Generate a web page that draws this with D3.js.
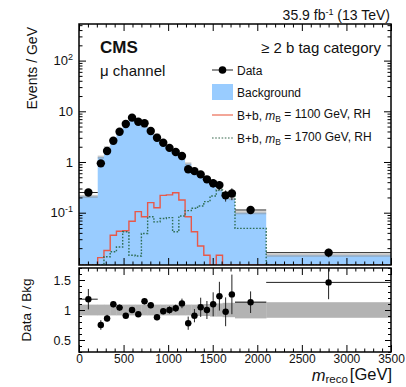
<!DOCTYPE html>
<html><head><meta charset="utf-8">
<script src="https://cdn.jsdelivr.net/npm/d3@7"></script>
<style>body{margin:0;background:#fff} text{font-family:"Liberation Sans",Arial,sans-serif;fill:#111}</style>
</head><body><svg id="c" width="406" height="387"></svg>
<script>
// ---- data ----
const binEdges = [0,210,280,350,420,490,560,630,700,770,840,910,980,1050,1120,1190,1260,1330,1400,1470,1540,1610,1680,1750,2100,3500];
const dataValues = [0.25,0.94,1.65,2.63,3.96,5.6,7.5,6.2,5.8,4.1,3.0,2.4,1.9,1.58,1.31,0.72,0.66,0.57,0.455,0.38,0.35,0.22,0.24,0.113,0.0163];
const bkgValues  = [0.21,1.25,1.92,2.4,3.8,6.2,7.5,6.7,5.07,3.8,3.4,2.45,1.9,1.53,1.18,0.92,0.73,0.545,0.455,0.35,0.285,0.227,0.19,0.10,0.0145];
const sig1100 = [0,0.013,0.018,0.036,0.043,0.044,0.068,0.105,0.083,0.158,0.125,0.22,0.225,0.248,0.178,0.083,0.042,0.022,0.0145,0,0.0145,0,0,0,0];
const sig1700 = [0,0,0.0135,0.017,0.021,0.042,0.0145,0.014,0.039,0.083,0.066,0.077,0.08,0.042,0.086,0.11,0.122,0.136,0.165,0.213,0.28,0.213,0.248,0.049,0];
const ratioValues = [1.18,0.75,0.86,1.095,1.04,0.905,1.0,0.93,1.145,1.08,0.88,0.98,1.0,1.03,1.11,0.78,0.905,1.045,1.0,1.095,1.23,0.97,1.26,1.13,1.46];
const ratioErrors = [0.17,0.08,0.06,0.05,0.05,0.04,0.04,0.04,0.05,0.05,0.05,0.05,0.06,0.06,0.08,0.11,0.11,0.16,0.15,0.2,0.24,0.24,0.33,0.18,0.28];
const bandHalfWidth = [0.09,0.09,0.09,0.09,0.09,0.09,0.09,0.09,0.09,0.09,0.09,0.09,0.09,0.09,0.09,0.09,0.09,0.1,0.1,0.11,0.11,0.12,0.12,0.14,0.13];
const xTicks = [0,500,1000,1500,2000,2500,3000,3500];
const yTopTicks = [0.1,1,10,100];
const yTopLabels = [["10","-1"],["1",""],["10",""],["10","2"]];
const yBotTicks = [0.5,1,1.5];
const yBotLabels = ["0.5","1","1.5"];
const legendLabels = ["Data","Background","B+b, m|B| = 1100 GeV, RH","B+b, m|B| = 1700 GeV, RH"];

// ---- layout ----
const L=79,R=391,T1=24,B1=265,T2=268,B2=352;
const svg = d3.select("#c");
const x = d3.scaleLinear().domain([0,3500]).range([L,R]);
const y = d3.scaleLog().domain([0.0093,527]).range([B1,T1]).clamp(true);
const yr = d3.scaleLinear().domain([0.3,1.7]).range([B2,T2]);
const nb = binEdges.length-1;
const bins = d3.range(nb);

const defs = svg.append("defs");
defs.append("clipPath").attr("id","ct").append("rect").attr("x",L).attr("y",T1).attr("width",R-L).attr("height",B1-T1);
defs.append("clipPath").attr("id","cb").append("rect").attr("x",L).attr("y",T2).attr("width",R-L).attr("height",B2-T2);

function stepPts(vals, sy){
  const p=[];
  bins.forEach(i=>{const v=sy(vals[i]>0?vals[i]:1e-9); p.push([x(binEdges[i]),v],[x(binEdges[i+1]),v]);});
  return p;
}
const topG = svg.append("g").attr("clip-path","url(#ct)");
const bp = stepPts(bkgValues,y);
topG.append("path").attr("d", d3.line()([[x(0),B1],...bp,[x(3500),B1]]))
  .attr("fill","#99ccff").attr("stroke","none");
topG.append("g").selectAll("rect").data(bins).join("rect")
  .attr("x",i=>x(binEdges[i])).attr("width",i=>x(binEdges[i+1])-x(binEdges[i]))
  .attr("y",i=>y(bkgValues[i]*1.07)).attr("height",i=>y(bkgValues[i]*0.93)-y(bkgValues[i]*1.07))
  .attr("fill","#888").attr("opacity",0.45);
topG.append("path").attr("d",d3.line()(stepPts(sig1100,y))).attr("fill","none").attr("stroke","#e8584a").attr("stroke-width",1.4);
topG.append("path").attr("d",d3.line()(stepPts(sig1700,y))).attr("fill","none").attr("stroke","#2f6e55").attr("stroke-width",1.4).attr("stroke-dasharray","1.6,1.6");
const dErr = bins.map(i=>dataValues[i]*ratioErrors[i]/ratioValues[i]);
const dg = topG.append("g");
dg.selectAll("line.h").data(bins).join("line").attr("class","h")
  .attr("x1",i=>x(binEdges[i])).attr("x2",i=>x(binEdges[i+1]))
  .attr("y1",i=>y(dataValues[i])).attr("y2",i=>y(dataValues[i])).attr("stroke","#222").attr("stroke-width",1);
dg.selectAll("line.v").data(bins).join("line").attr("class","v")
  .attr("x1",i=>x((binEdges[i]+binEdges[i+1])/2)).attr("x2",i=>x((binEdges[i]+binEdges[i+1])/2))
  .attr("y1",i=>y(dataValues[i]+dErr[i])).attr("y2",i=>y(Math.max(dataValues[i]-dErr[i],1e-4))).attr("stroke","#222");
dg.selectAll("circle").data(bins).join("circle")
  .attr("cx",i=>x((binEdges[i]+binEdges[i+1])/2)).attr("cy",i=>y(dataValues[i])).attr("r",4.2).attr("fill","#000");

// ---- ratio panel ----
const botG = svg.append("g").attr("clip-path","url(#cb)");
botG.append("g").selectAll("rect").data(bins).join("rect")
  .attr("x",i=>x(binEdges[i])).attr("width",i=>x(binEdges[i+1])-x(binEdges[i])+0.3)
  .attr("y",i=>yr(1+bandHalfWidth[i])).attr("height",i=>yr(1-bandHalfWidth[i])-yr(1+bandHalfWidth[i]))
  .attr("fill","#b3b3b3");
const rg = botG.append("g");
rg.selectAll("line.h").data(bins).join("line").attr("class","h")
  .attr("x1",i=>x(binEdges[i])).attr("x2",i=>x(binEdges[i+1]))
  .attr("y1",i=>yr(ratioValues[i])).attr("y2",i=>yr(ratioValues[i])).attr("stroke","#222");
rg.selectAll("line.v").data(bins).join("line").attr("class","v")
  .attr("x1",i=>x((binEdges[i]+binEdges[i+1])/2)).attr("x2",i=>x((binEdges[i]+binEdges[i+1])/2))
  .attr("y1",i=>yr(ratioValues[i]+ratioErrors[i])).attr("y2",i=>yr(ratioValues[i]-ratioErrors[i])).attr("stroke","#222");
rg.selectAll("circle").data(bins).join("circle")
  .attr("cx",i=>x((binEdges[i]+binEdges[i+1])/2)).attr("cy",i=>yr(ratioValues[i])).attr("r",3.2).attr("fill","#000");

// ---- axes ----
const xMinor = d3.range(0,3501,100).filter(v=>v%500!==0);
const logAll=[]; for(let e=-2;e<=2;e++) for(let m=1;m<=9;m++){const v=m*Math.pow(10,e); if(v>=0.0093&&v<=527) logAll.push(v);}
const logMinor = logAll.filter(v=>Math.abs(Math.log10(v)-Math.round(Math.log10(v)))>1e-9);
const rMinor = d3.range(0.3,1.71,0.1).map(v=>+v.toFixed(2)).filter(v=>!yBotTicks.includes(v));
function ax(gen, tx, ty){ const g=svg.append("g").attr("transform",`translate(${tx},${ty})`).call(gen); g.select(".domain").remove(); g.selectAll("line").attr("stroke","#000"); return g;}
const MJ=7, MN=3.5;
[[B1,T1],[B2,T2]].forEach(([b,t],k)=>{
  ax(d3.axisBottom(x).tickValues(xTicks).tickSize(-MJ).tickPadding(2).tickFormat(k===1?d3.format("d"):()=>""),0,b)
    .selectAll("text").attr("font-size",12).attr("fill","#111").attr("font-family","Liberation Sans, Arial, sans-serif");
  ax(d3.axisBottom(x).tickValues(xMinor).tickSize(-MN).tickFormat(()=>""),0,b);
  ax(d3.axisTop(x).tickValues(xTicks).tickSize(-MJ).tickFormat(()=>""),0,t);
  ax(d3.axisTop(x).tickValues(xMinor).tickSize(-MN).tickFormat(()=>""),0,t);
});
const ly = ax(d3.axisLeft(y).tickValues(yTopTicks).tickSize(-MJ).tickPadding(6).tickFormat(()=>""),L,0);
ly.selectAll(".tick text").each(function(d){
  const lab = yTopLabels[yTopTicks.indexOf(d)];
  const t = d3.select(this).attr("font-size",13).attr("fill","#111").attr("font-family","Liberation Sans, Arial, sans-serif");
  t.append("tspan").text(lab[0]);
  if(lab[1]) t.append("tspan").attr("font-size",9).attr("dy","-0.55em").text(lab[1]);
});
ax(d3.axisLeft(y).tickValues(logMinor).tickSize(-MN).tickFormat(()=>""),L,0);
ax(d3.axisRight(y).tickValues(yTopTicks).tickSize(-MJ).tickFormat(()=>""),R,0);
ax(d3.axisRight(y).tickValues(logMinor).tickSize(-MN).tickFormat(()=>""),R,0);
ax(d3.axisLeft(yr).tickValues(yBotTicks).tickSize(-6).tickPadding(8).tickFormat((d,i)=>yBotLabels[i]),L,0)
  .selectAll("text").attr("font-size",12.5).attr("fill","#111").attr("font-family","Liberation Sans, Arial, sans-serif");
ax(d3.axisLeft(yr).tickValues(rMinor).tickSize(-3).tickFormat(()=>""),L,0);
ax(d3.axisRight(yr).tickValues(yBotTicks).tickSize(-6).tickFormat(()=>""),R,0);
ax(d3.axisRight(yr).tickValues(rMinor).tickSize(-3).tickFormat(()=>""),R,0);
svg.append("rect").attr("x",L).attr("y",T1).attr("width",R-L).attr("height",B1-T1).attr("fill","none").attr("stroke","#000").attr("stroke-width",1.5);
svg.append("rect").attr("x",L).attr("y",T2).attr("width",R-L).attr("height",B2-T2).attr("fill","none").attr("stroke","#000").attr("stroke-width",1.5);

// ---- texts ----
const lumi = svg.append("text").attr("x",390).attr("y",20).attr("text-anchor","end").attr("font-size",14);
lumi.append("tspan").text("35.9 fb");
lumi.append("tspan").attr("font-size",9).attr("dy","-0.6em").text("-1");
lumi.append("tspan").attr("dy","0.39em").text(" (13 TeV)");
svg.append("text").attr("x",100).attr("y",53).attr("font-size",17).attr("font-weight","bold").text("CMS");
svg.append("text").attr("x",100).attr("y",76).attr("font-size",15).text("μ channel");
svg.append("text").attr("x",381).attr("y",53).attr("text-anchor","end").attr("font-size",15).text("≥ 2 b tag category");
svg.append("text").attr("transform","translate(37,27) rotate(-90)").attr("text-anchor","end").attr("font-size",14).text("Events / GeV");
svg.append("text").attr("transform","translate(31,310) rotate(-90)").attr("text-anchor","middle").attr("font-size",13.5).text("Data / Bkg");
const xt = svg.append("text").attr("x",392).attr("y",381).attr("text-anchor","end").attr("font-size",16.5);
xt.append("tspan").attr("font-style","italic").text("m");
xt.append("tspan").attr("font-size",11.5).attr("dy","0.2em").text("reco");
xt.append("tspan").attr("dy","-0.2em").attr("dx","2").text("[GeV]");

// ---- legend ----
const lx0=212, lx1=233, ly0=[70,92,115,138];
const lg = svg.append("g");
lg.append("line").attr("x1",lx0).attr("x2",lx1).attr("y1",ly0[0]).attr("y2",ly0[0]).attr("stroke","#222");
lg.append("circle").attr("cx",(lx0+lx1)/2).attr("cy",ly0[0]).attr("r",3.8).attr("fill","#000");
lg.append("rect").attr("x",lx0).attr("y",ly0[1]-8).attr("width",lx1-lx0).attr("height",16).attr("fill","#99ccff");
lg.append("line").attr("x1",lx0).attr("x2",lx1).attr("y1",ly0[2]).attr("y2",ly0[2]).attr("stroke","#f0907f").attr("stroke-width",1.6);
lg.append("line").attr("x1",lx0).attr("x2",lx1).attr("y1",ly0[3]).attr("y2",ly0[3]).attr("stroke","#7a9a88").attr("stroke-width",1.4).attr("stroke-dasharray","1.6,1.6");
legendLabels.forEach((s,k)=>{
  const t = lg.append("text").attr("x",237).attr("y",ly0[k]+4.5).attr("font-size",12);
  const parts = s.split("|");
  if(parts.length===1){ t.text(s); return; }
  t.append("tspan").text(parts[0].slice(0,-1));
  t.append("tspan").attr("font-style","italic").text("m");
  t.append("tspan").attr("font-size",8.5).attr("dy","0.35em").text(parts[1]);
  t.append("tspan").attr("dy","-0.35em").text(parts[2]);
});
</script></body></html>
